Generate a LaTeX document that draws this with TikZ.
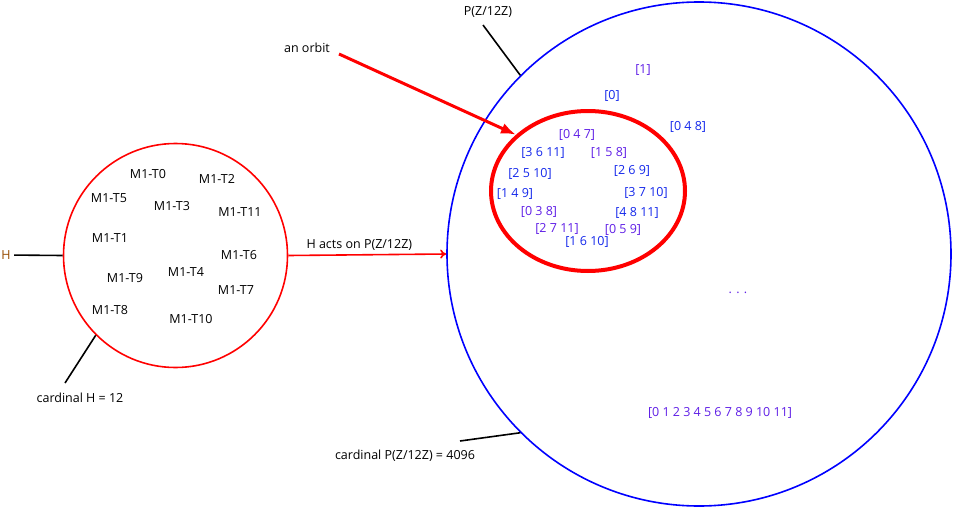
\documentclass[tikz,border=0pt]{standalone}
\usepackage{fontspec}
\setmainfont{Open Sans}
\usepackage{xcolor}
\usetikzlibrary{shapes.geometric, arrows.meta}
\definecolor{hbrown}{RGB}{150,75,0}
\definecolor{setblue}{RGB}{20,40,235}
\definecolor{setviolet}{RGB}{95,30,230}

\begin{document}
\begin{tikzpicture}[x=1pt, y=-1pt, font=\fontsize{12.5}{15}\selectfont,
    sb/.style={text=setblue}, sv/.style={text=setviolet},
    pointer/.style={line width=1.6pt}]
    \useasboundingbox (0,0) rectangle (953,506);
    % Sets
    \node[circle, draw=red, line width=1.6pt, minimum size=224pt, inner sep=0pt] (Hset) at (175.5,255.5) {};
    \node[circle, draw=blue, line width=1.6pt, minimum size=504pt, inner sep=0pt] (P) at (699,254) {};
    \node[ellipse, draw=red, line width=4pt, minimum width=194pt, minimum height=160pt, inner sep=0pt] (orbit) at (588,191) {};
    % Labels
    \node[text=hbrown] (H) at (6,255) {H};
    \node (Hcardtext) at (80,398) {cardinal H = 12};
    \node (Ptext) at (488,12) {P(Z/12Z)};
    \node (Pcardtext) at (405,456) {cardinal P(Z/12Z) = 4096};
    \node (orbittext) at (307,48) {an orbit};
    \coordinate (Hcard) at (65,383);
    \coordinate (Ptail) at (483,25);
    \coordinate (Pcard) at (460,441);
    \coordinate (orbittail) at (339,54);
    % Elements of H
    \node (T0) at (148,174) {M1-T0};
    \node (T2) at (217,179) {M1-T2};
    \node (T5) at (109,198) {M1-T5};
    \node (T3) at (172,206) {M1-T3};
    \node (T11) at (240,212) {M1-T11};
    \node (T1) at (110,238) {M1-T1};
    \node (T6) at (239,255) {M1-T6};
    \node (T4) at (186,272) {M1-T4};
    \node (T9) at (125,278) {M1-T9};
    \node (T7) at (236,290) {M1-T7};
    \node (T8) at (110,310) {M1-T8};
    \node (T10) at (191,319) {M1-T10};
    % Subsets
    \node[sv] (s1) at (643,70) {[1]};
    \node[sb] (s0) at (612,96) {[0]};
    \node[sb] (s048) at (688,127) {[0 4 8]};
    \node[sv] (s047) at (577,135) {[0 4 7]};
    \node[sb] (s3611) at (543,153) {[3 6 11]};
    \node[sv] (s158) at (609,153) {[1 5 8]};
    \node[sb] (s2510) at (530,174) {[2 5 10]};
    \node[sb] (s269) at (632,171) {[2 6 9]};
    \node[sb] (s149) at (515,194) {[1 4 9]};
    \node[sb] (s3710) at (646,193) {[3 7 10]};
    \node[sv] (s038) at (539,212) {[0 3 8]};
    \node[sb] (s4811) at (637,213) {[4 8 11]};
    \node[sv] (s2711) at (557,229) {[2 7 11]};
    \node[sv] (s059) at (623,230) {[0 5 9]};
    \node[sb] (s1610) at (587,242) {[1 6 10]};
    \node[sv] (dots) at (738,293) {. . .};
    \node[sv] (sall) at (720,413) {[0 1 2 3 4 5 6 7 8 9 10 11]};
    % Lines
    \draw[pointer] (H) -- (Hset.west);
    \draw[pointer] (Hcard) -- (Hset.225);
    \draw[pointer] (Ptail) -- (P.135);
    \draw[pointer] (Pcard) -- (P.225);
    % Arrows
    \draw[-{To[length=6pt, width=9pt]}, red, line width=1.6pt] (Hset.east) -- (P.west) node[pos=0.45, above, black] {H acts on P(Z/12Z)};
    \draw[-{Latex[length=15pt, width=11pt]}, red, line width=3pt] (orbittail) -- (orbit.142);
\end{tikzpicture}
\end{document}
